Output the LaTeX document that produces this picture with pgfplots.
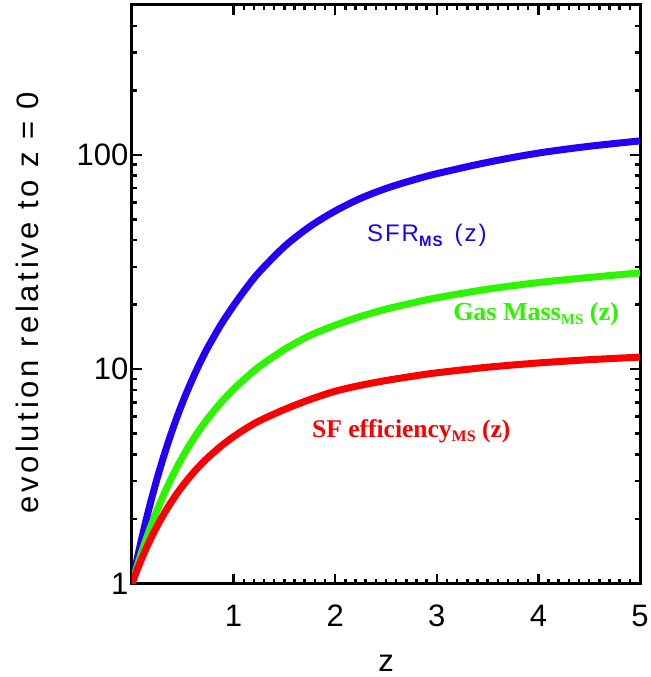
\documentclass[border=0pt]{standalone}
\usepackage{fontspec}
\setmainfont{Liberation Sans}
\newfontfamily\tnr{Liberation Serif}
\usepackage{pgfplots}
\usepackage{pgfplotstable}
\pgfplotsset{compat=1.18}
\definecolor{cblue}{RGB}{35,0,245}
\definecolor{cgreen}{RGB}{45,245,0}
\definecolor{cred}{RGB}{250,0,0}

\pgfplotstableread{
z      sfr    gas    eff
0      1      1      1
0.0625 1.380  1.252  1.196
0.125  1.855  1.541  1.408
0.1875 2.433  1.862  1.631
0.25   3.123  2.217  1.866
0.3125 3.923  2.601  2.107
0.375  4.841  3.013  2.355
0.4375 5.880  3.451  2.608
0.5    7.033  3.912  2.862
0.5625 8.293  4.391  3.118
0.625  9.667  4.889  3.375
0.6875 11.15  5.400  3.628
0.75   12.72  5.920  3.879
0.875  16.11  6.986  4.371
1.0    19.80  8.067  4.845
1.125  23.89  9.148  5.296
1.25   28.31  10.26  5.728
1.5    37.33  12.36  6.486
1.75   46.24  14.35  7.211
2.0    54.70  16.03  7.889
2.25   62.66  17.62  8.405
2.5    69.66  19.05  8.851
2.75   75.86  20.32  9.247
3.0    81.66  21.53  9.616
3.5    92.26  23.61  10.21
4.0    101.9  25.35  10.69
4.5    109.6  26.79  11.07
5.0    116.1  28.12  11.38
}\curves

\begin{document}
\begin{tikzpicture}
\begin{axis}[
  name=ax,
  scale only axis,
  width=508pt, height=578.5pt,
  xmin=0, xmax=5,
  ymode=log, ymin=1, ymax=500,
  xtick={1,2,3,4,5},
  minor x tick num=9,
  ytick={1,10,100},
  yticklabels={1,10,100},
  minor ytick={2,3,4,5,6,7,8,9,20,30,40,50,60,70,80,90,200,300,400},
  tick align=inside,
  major tick length=10pt,
  minor tick length=5pt,
  every tick/.style={black, line width=2.5pt},
  axis line style={line width=3pt},
  /pgf/number format/assume math mode=true,
  tick label style={font=\fontsize{31}{31}\selectfont},
  xticklabel style={yshift=-18pt},
  clip mode=individual,
]
\addplot[cblue, line width=7pt, smooth, line join=round] table[x=z, y=sfr] {\curves};
\addplot[cgreen, line width=7pt, smooth, line join=round] table[x=z, y=gas] {\curves};
\addplot[cred, line width=7pt, smooth, line join=round] table[x=z, y=eff] {\curves};

\node[anchor=base west, text=cblue, inner sep=0pt,
      font=\fontsize{24}{24}\selectfont\addfontfeature{LetterSpace=8}]
  at (rel axis cs:0.4626,0.591)
  {SFR\raisebox{-5pt}{\fontsize{15}{15}\selectfont\bfseries MS}\hspace{12pt}(z)};
\node[anchor=base west, text=cgreen, inner sep=0pt,
      font=\fontsize{26}{26}\selectfont\tnr\bfseries]
  at (rel axis cs:0.632,0.4543)
  {Gas Mass\raisebox{-4pt}{\fontsize{15}{15}\selectfont MS} (z)};
\node[anchor=base west, text=cred, inner sep=0pt,
      font=\fontsize{25.5}{25.5}\selectfont\tnr\bfseries]
  at (rel axis cs:0.3543,0.2527)
  {SF efficiency\raisebox{-4pt}{\fontsize{16}{16}\selectfont MS} (z)};

\node[anchor=base, inner sep=0pt, font=\fontsize{31}{31}\selectfont]
  at (rel axis cs:0.5,-0.152) {z};
\node[anchor=base, rotate=90, inner sep=0pt,
      font=\fontsize{31}{31}\selectfont\addfontfeature{LetterSpace=12}]
  at (rel axis cs:-0.185,0.485) {evolution relative to z = 0};
\end{axis}
\pgfresetboundingbox
\path[use as bounding box] ([shift={(-132pt,-93.5pt)}]ax.south west) rectangle ([shift={(11pt,5pt)}]ax.north east);
\end{tikzpicture}
\end{document}
